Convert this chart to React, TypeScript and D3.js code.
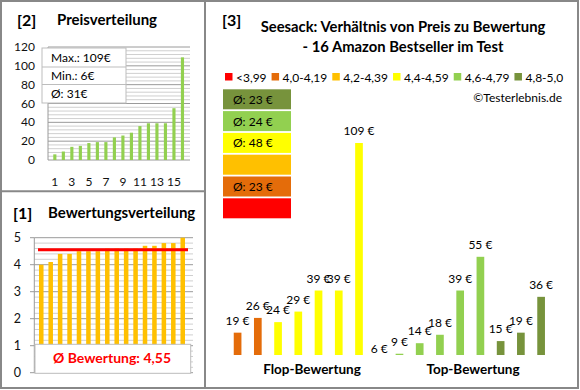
import React, { useEffect, useRef } from 'react';
import * as d3 from 'd3';

// products in the order of the right chart (flop -> top)
const prices = [19, 26, 24, 29, 39, 39, 109, 6, 9, 14, 18, 39, 55, 15, 19, 36];
const ratingClass = [1, 1, 3, 3, 3, 3, 3, 4, 4, 4, 4, 4, 4, 5, 5, 5];
const ratings = [4.0, 4.1, 4.4, 4.4, 4.5, 4.5, 4.5, 4.6, 4.6, 4.6, 4.6, 4.7, 4.7, 4.8, 4.8, 5.0];

const classLabels = ['<3,99', '4,0-4,19', '4,2-4,39', '4,4-4,59', '4,6-4,79', '4,8-5,0'];
const classColors = ['#FF0000', '#E46C0A', '#FFC000', '#FFFF00', '#92D050', '#77933C'];

const priceTicks = [0, 20, 40, 60, 80, 100, 120];
const ratingTicks = [0, 1, 2, 3, 4, 5];

const FONT = 'Lato, "Open Sans", sans-serif';

export default function App() {
  const legendRef = useRef<SVGGElement>(null);

  const sorted = [...prices].sort((a, b) => a - b);
  const maxP = d3.max(prices)!;
  const minP = d3.min(prices)!;
  const avgP = Math.round(d3.mean(prices)!);
  const avgR = d3.mean(ratings)!;

  // panel [2]
  const x2 = d3.scaleBand<number>().domain(d3.range(1, 17)).range([47.9, 189.4]).padding(0.63);
  const y2 = d3.scaleLinear().domain([0, 120]).range([160, 47]);

  // panel [1]
  const x1 = d3.scaleBand<number>().domain(d3.range(1, 17)).range([34.1, 189.9]).padding(0.52);
  const y1 = d3.scaleLinear().domain([0, 5]).range([372.7, 237.7]);

  // panel [3]
  const x3 = d3.scaleBand<number>().domain(d3.range(16)).range([221.2, 557.5]).padding(0.62);
  const y3 = d3.scaleLinear().domain([8.4, 109]).range([355, 143]);

  const classAvg = classColors.map((_, c) => {
    const v = prices.filter((_, i) => ratingClass[i] === c);
    return v.length ? Math.round(d3.mean(v)!) : null;
  });

  useEffect(() => {
    const g = d3.select(legendRef.current);
    let x = 225;
    g.selectAll<SVGGElement, unknown>('g.item').each(function () {
      const item = d3.select(this);
      const t = item.select<SVGTextElement>('text').node()!;
      item.attr('transform', `translate(${x},0)`);
      x += 11 + t.getComputedTextLength() + 5;
    });
  }, []);

  return (
    <svg width={580} height={390} style={{ position: 'absolute', left: 0, top: 0, fontFamily: FONT }}>
      <rect x={0} y={0} width={580} height={390} fill="#fff" />
      <rect x={1} y={1} width={577} height={387} fill="none" stroke="#888" strokeWidth={2} />
      <line x1={205} x2={205} y1={1} y2={388} stroke="#888" strokeWidth={2} />
      <line x1={1} x2={205} y1={191.3} y2={191.3} stroke="#888" strokeWidth={2} />

      {/* [2] Preisverteilung */}
      <text x={17} y={26} fontSize={16} fontWeight="bold">[2]</text>
      <text x={57} y={25} fontSize={15} fontWeight="bold">Preisverteilung</text>
      {d3.range(0, 121, 4).map((v) => (
        <line key={v} x1={48} x2={190} y1={y2(v)} y2={y2(v)} stroke={v % 20 === 0 ? '#9a9a9a' : '#cfcfcf'} strokeWidth={1} />
      ))}
      <line x1={48} x2={48} y1={y2(120)} y2={y2(0)} stroke="#9a9a9a" />
      {priceTicks.map((v) => (
        <text key={v} x={35} y={y2(v) + 4} fontSize={12} textAnchor="end" fill="#111">{v}</text>
      ))}
      {sorted.map((v, i) => (
        <rect key={i} x={x2(i + 1)} y={y2(v)} width={x2.bandwidth()} height={y2(0) - y2(v)} fill="#92D050" />
      ))}
      {d3.range(1, 17, 2).map((n) => (
        <text key={n} x={x2(n)! + x2.bandwidth() / 2} y={186} fontSize={12} textAnchor="middle" fill="#111">{n}</text>
      ))}
      <rect x={42} y={48} width={84} height={55} fill="#fff" stroke="#bdbdbd" />
      <line x1={42} x2={126} y1={67} y2={67} stroke="#bdbdbd" />
      <line x1={42} x2={126} y1={84.5} y2={84.5} stroke="#bdbdbd" />
      <text x={51} y={62} fontSize={12}>Max.: {maxP}€</text>
      <text x={51} y={80} fontSize={12}>Min.: {minP}€</text>
      <text x={51} y={98} fontSize={12}>Ø: {avgP}€</text>

      {/* [1] Bewertungsverteilung */}
      <text x={13} y={219} fontSize={16} fontWeight="bold">[1]</text>
      <text x={48} y={218} fontSize={15} fontWeight="bold">Bewertungsverteilung</text>
      {d3.range(0, 26).map((k) => {
        const v = k / 5;
        return (
          <line key={k} x1={34.3} x2={193} y1={y1(v)} y2={y1(v)} stroke={k % 5 === 0 ? '#9a9a9a' : '#cfcfcf'} />
        );
      })}
      <line x1={34.3} x2={34.3} y1={y1(5)} y2={y1(0)} stroke="#9a9a9a" />
      {ratingTicks.map((v) => (
        <g key={v}>
          <line x1={30} x2={34.3} y1={y1(v)} y2={y1(v)} stroke="#9a9a9a" />
          <text x={21} y={y1(v) + 4.5} fontSize={12.5} textAnchor="end" fill="#111">{v}</text>
        </g>
      ))}
      {ratings.map((v, i) => (
        <rect key={i} x={x1(i + 1)} y={y1(v)} width={x1.bandwidth()} height={y1(0) - y1(v)} fill="#FFC000" />
      ))}
      <line x1={38} x2={188} y1={y1(avgR)} y2={y1(avgR)} stroke="#FF0000" strokeWidth={3} />
      <rect x={35} y={344.3} width={155.7} height={29} fill="#fff" stroke="#bdbdbd" />
      <text x={112} y={363} fontSize={14} fontWeight="bold" fill="#FF0000" textAnchor="middle">
        Ø Bewertung: {avgR.toFixed(2).replace('.', ',')}
      </text>

      {/* [3] Preis zu Bewertung */}
      <text x={222} y={26} fontSize={16} fontWeight="bold">[3]</text>
      <text x={403} y={31.5} fontSize={14.8} fontWeight="bold" textAnchor="middle">Seesack: Verhältnis von Preis zu Bewertung</text>
      <text x={403} y={51.5} fontSize={14.8} fontWeight="bold" textAnchor="middle">- 16 Amazon Bestseller im Test</text>

      <g ref={legendRef} transform="translate(0,77)">
        {classLabels.map((l, i) => (
          <g className="item" key={l}>
            <rect x={0} y={-4} width={7.5} height={7.5} fill={classColors[i]} />
            <text x={11} y={4.5} fontSize={12}>{l}</text>
          </g>
        ))}
      </g>
      <text x={562} y={102} fontSize={12} textAnchor="end">©Testerlebnis.de</text>

      {d3.range(6).map((k) => {
        const c = 5 - k;
        const yy = 89.3 + k * 21.8;
        return (
          <g key={c}>
            <rect x={223} y={yy} width={68} height={20} fill={classColors[c]} />
            {classAvg[c] !== null && (
              <text x={233} y={yy + 14.5} fontSize={12}>Ø: {classAvg[c]} €</text>
            )}
          </g>
        );
      })}

      {prices.map((v, i) => {
        const top = y3(Math.max(v, y3.domain()[0]));
        return (
          <g key={i}>
            <rect x={x3(i)} y={top} width={x3.bandwidth()} height={y3(y3.domain()[0]) - top} fill={classColors[ratingClass[i]]} />
            <text x={x3(i)! + x3.bandwidth() / 2} y={v < y3.domain()[0] ? top - 2 : top - 8} fontSize={12} textAnchor="middle">{v} €</text>
          </g>
        );
      })}
      <text x={312} y={374} fontSize={13.5} fontWeight="bold" textAnchor="middle">Flop-Bewertung</text>
      <text x={473} y={374} fontSize={13.5} fontWeight="bold" textAnchor="middle">Top-Bewertung</text>
    </svg>
  );
}
